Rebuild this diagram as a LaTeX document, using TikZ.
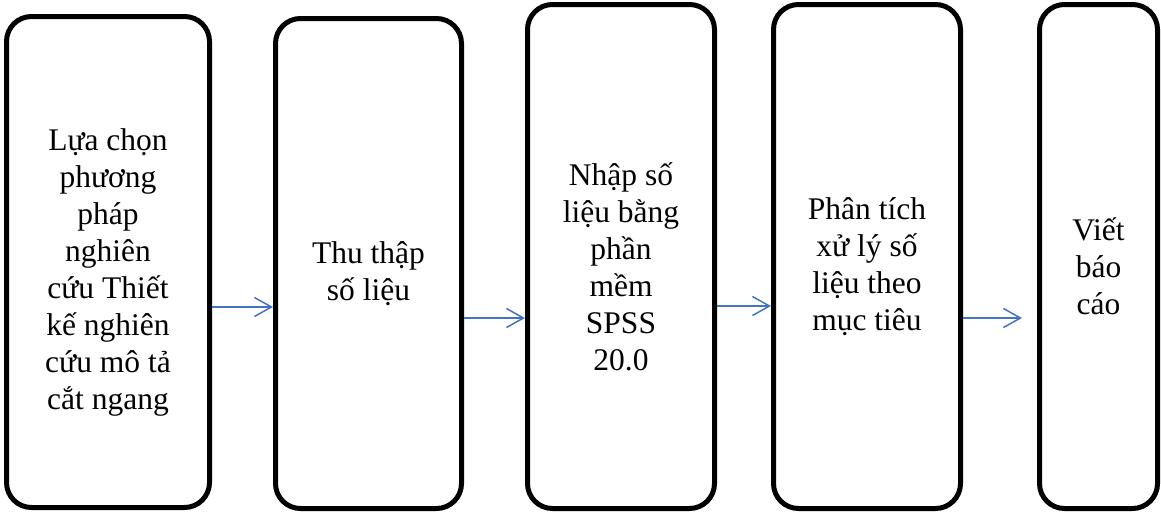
\documentclass[tikz,border=0pt]{standalone}
\usepackage{fontspec}
\setmainfont{Liberation Serif}
\usetikzlibrary{arrows.meta, positioning}
\definecolor{flowblue}{RGB}{68,114,196}

\begin{document}
\begin{tikzpicture}[x=1pt, y=-1pt,
    stage/.style={draw, line width=5pt, rounded corners=25pt, inner sep=0pt},
    stagetext/.style={align=center, yshift=-10pt,
                      font=\fontsize{31.5}{37}\selectfont},
    flow/.style={-{Straight Barb[length=17pt, width=19pt]},
                 line width=1.5pt, flowblue}]
  \useasboundingbox (0,0) rectangle (1161,517);

  % Stages of the study
  \node[stage, minimum width=203pt, minimum height=491pt,
        label={[stagetext]center:{Lựa chọn\\phương\\pháp\\nghiên\\cứu Thiết\\kế nghiên\\cứu mô tả\\cắt ngang}}]
    (chon) at (108,262) {};
  \node[stage, minimum width=186pt, minimum height=490pt,
        label={[stagetext]center:{Thu thập\\số liệu}}]
    (thu) at (368.5,263.5) {};
  \node[stage, minimum width=187pt, minimum height=504pt,
        label={[stagetext]center:{Nhập số\\liệu bằng\\phần\\mềm\\SPSS\\20.0}}]
    (nhap) at (621,256.5) {};
  \node[stage, minimum width=187pt, minimum height=504pt,
        label={[stagetext]center:{Phân tích\\xử lý số\\liệu theo\\mục tiêu}}]
    (phantich) at (867,256.5) {};
  \node[stage, minimum width=118pt, minimum height=504pt,
        label={[stagetext]center:{Viết\\báo\\cáo}}]
    (viet) at (1098.5,256.5) {};

  % Arrows between stages
  \draw[flow] (chon.east |- 0,307) -- (thu.west |- 0,307);
  \draw[flow] (thu.east |- 0,318) -- (nhap.west |- 0,318);
  \draw[flow] (nhap.east |- 0,306) -- (phantich.west |- 0,306);
  \coordinate (vietin) at ([xshift=-15pt]viet.west |- 0,318);
  \draw[flow] (phantich.east |- 0,318) -- (vietin);
\end{tikzpicture}
\end{document}
